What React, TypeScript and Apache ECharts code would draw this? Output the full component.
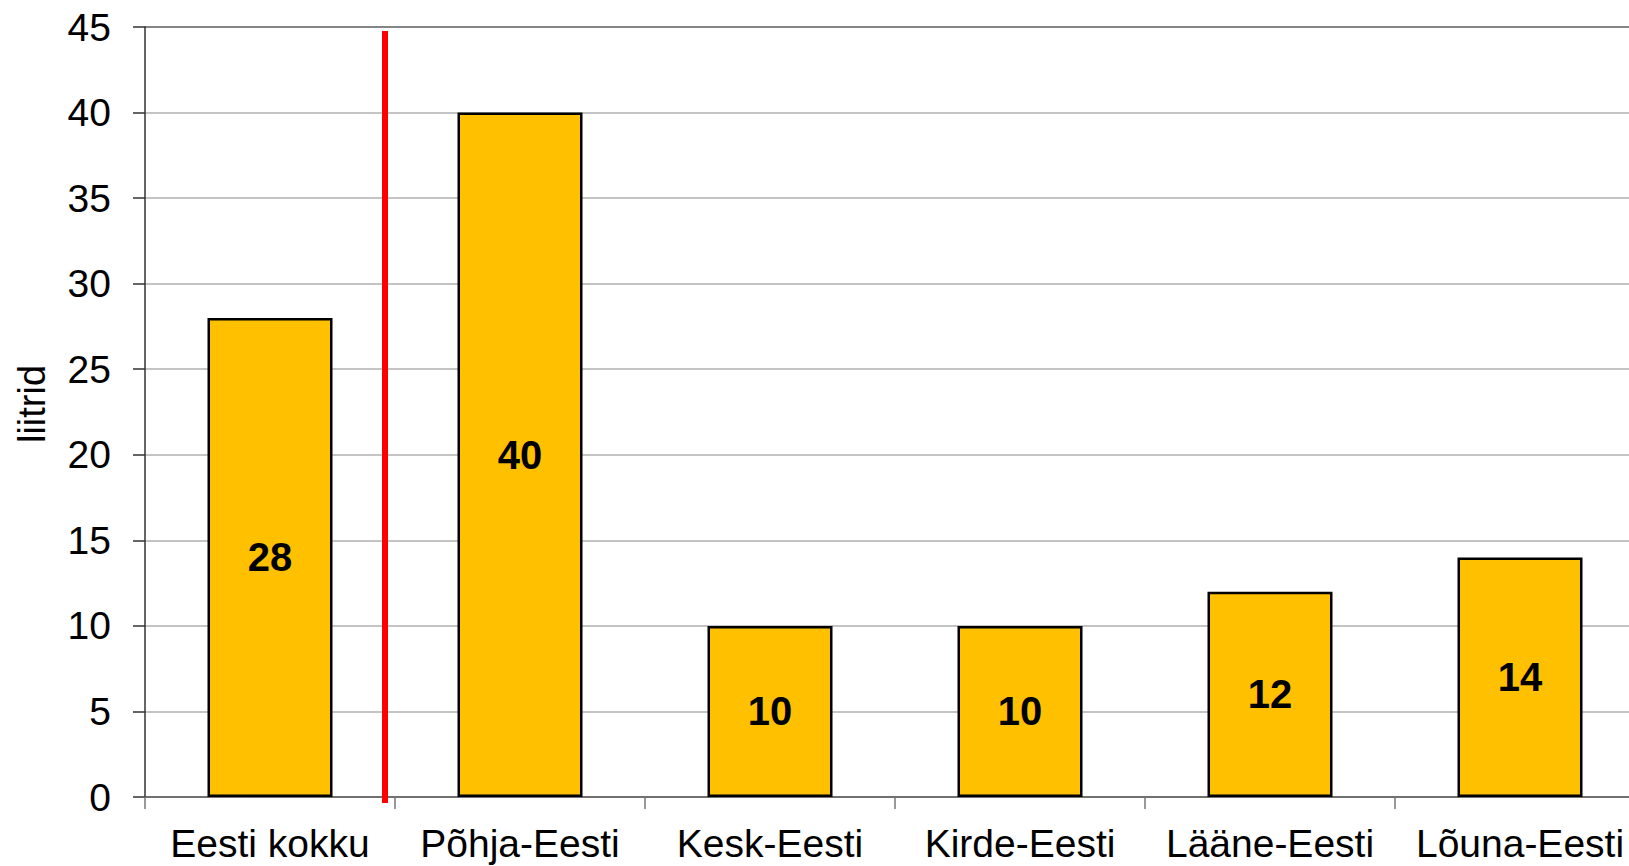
import React, { useEffect, useRef } from "react";
import * as echarts from "echarts";

const categories = ["Eesti kokku", "Põhja-Eesti", "Kesk-Eesti", "Kirde-Eesti", "Lääne-Eesti", "Lõuna-Eesti"];
const values = [28, 40, 10, 10, 12, 14];
const yAxisName = "liitrid";

const FONT = "'Liberation Sans', Arial, Helvetica, sans-serif";

export default function App() {
  const ref = useRef<HTMLDivElement>(null);
  useEffect(() => {
    if (!ref.current) return;
    const chart = echarts.init(ref.current, null, { renderer: "svg" });
    chart.setOption({
      animation: false,
      backgroundColor: "#ffffff",
      grid: { left: 145, top: 27, bottom: 69, width: 1500, containLabel: false },
      xAxis: {
        type: "category",
        data: categories,
        axisLine: { show: true, lineStyle: { color: "#555555", width: 1.5 } },
        axisTick: { show: true, alignWithLabel: false, length: 12, lineStyle: { color: "#777777", width: 1.5 } },
        axisLabel: { color: "#000000", fontSize: 39, fontFamily: FONT, margin: 27, interval: 0 },
        splitLine: { show: false },
      },
      yAxis: {
        type: "value",
        min: 0,
        max: 45,
        interval: 5,
        name: yAxisName,
        nameLocation: "middle",
        nameRotate: 90,
        nameGap: 94,
        nameTextStyle: { color: "#000000", fontSize: 38, fontFamily: FONT, padding: [0, 0, 0, 16] },
        axisLine: { show: true, lineStyle: { color: "#333333", width: 1.5 } },
        axisTick: { show: true, length: 12, lineStyle: { color: "#333333", width: 1.5 } },
        axisLabel: { color: "#000000", fontSize: 39, fontFamily: FONT, margin: 34 },
        splitLine: {
          show: true,
          lineStyle: {
            width: 2,
            color: ["#c4c4c4", "#c4c4c4", "#c4c4c4", "#c4c4c4", "#c4c4c4", "#c4c4c4", "#c4c4c4", "#c4c4c4", "#c4c4c4", "#858585"],
          },
        },
      },
      series: [
        {
          type: "bar",
          data: values,
          barWidth: "50%",
          itemStyle: { color: "#FFC000", borderColor: "#000000", borderWidth: 2.5 },
          label: {
            show: true,
            position: "inside",
            color: "#000000",
            fontSize: 40,
            fontWeight: "bold",
            fontFamily: FONT,
          },
        },
      ],
      graphic: [
        {
          type: "line",
          shape: { x1: 385, y1: 31, x2: 385, y2: 803 },
          style: { stroke: "#ff0000", lineWidth: 6 },
          z: 100,
        },
      ],
    });
    return () => chart.dispose();
  }, []);
  return (
    <div style={{ position: "fixed", left: 0, top: 0, width: 1629, height: 866, overflow: "hidden", background: "#fff" }}>
      <div ref={ref} style={{ width: 1700, height: 866 }} />
    </div>
  );
}
